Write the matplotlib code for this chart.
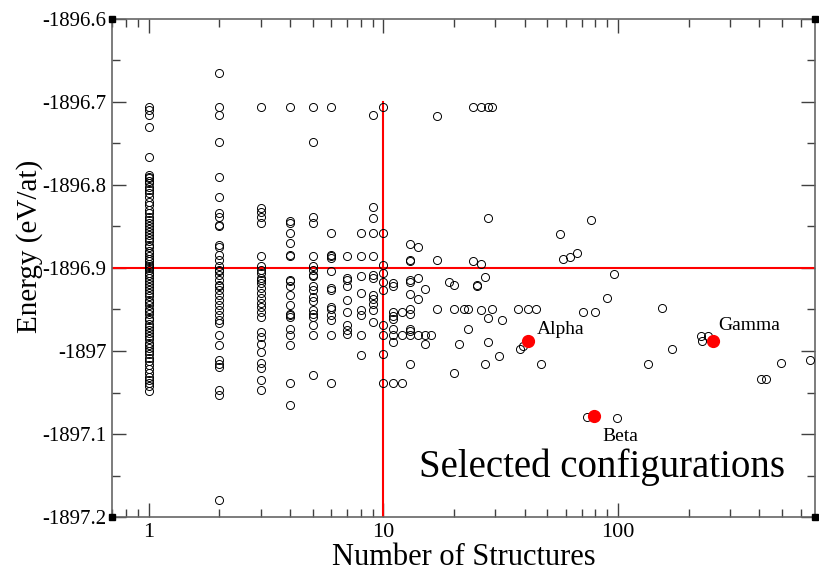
import numpy as np
import matplotlib
matplotlib.use('Agg')
import matplotlib.pyplot as plt
from matplotlib.ticker import FixedLocator, FuncFormatter, LogLocator, NullFormatter

plt.rcParams['font.family'] = ['Liberation Serif', 'DejaVu Serif']
plt.rcParams['axes.unicode_minus'] = False

# Energies of the structures, grouped by number of structures
energies_n1 = [-1896.706, -1896.710, -1896.716, -1896.730, -1896.766, -1896.788, -1896.790,
               -1896.792, -1896.795, -1896.798, -1896.802, -1896.806, -1896.810, -1896.815,
               -1896.820, -1896.824, -1896.830, -1896.834, -1896.838, -1896.842, -1896.846,
               -1896.850, -1896.853, -1896.857, -1896.860, -1896.864, -1896.868, -1896.872,
               -1896.875, -1896.879, -1896.882, -1896.886, -1896.889, -1896.892, -1896.895,
               -1896.898, -1896.900, -1896.903, -1896.906, -1896.909, -1896.912, -1896.916,
               -1896.919, -1896.923, -1896.927, -1896.930, -1896.934, -1896.938, -1896.941,
               -1896.945, -1896.949, -1896.952, -1896.956, -1896.960, -1896.963, -1896.967,
               -1896.971, -1896.975, -1896.978, -1896.982, -1896.986, -1896.990, -1896.993,
               -1896.996, -1897.000, -1897.004, -1897.008, -1897.012, -1897.017, -1897.022,
               -1897.026, -1897.031, -1897.035, -1897.038, -1897.042, -1897.048]
energies_n2 = [-1896.665, -1896.706, -1896.716, -1896.748, -1896.791, -1896.814, -1896.834,
               -1896.838, -1896.848, -1896.850, -1896.872, -1896.875, -1896.884, -1896.890,
               -1896.898, -1896.902, -1896.904, -1896.908, -1896.914, -1896.920, -1896.922,
               -1896.926, -1896.933, -1896.939, -1896.945, -1896.951, -1896.957, -1896.963,
               -1896.966, -1896.981, -1896.993, -1897.011, -1897.016, -1897.019, -1897.047,
               -1897.053, -1897.180]
energies_n3 = [-1896.706, -1896.828, -1896.832, -1896.838, -1896.846, -1896.886, -1896.898,
               -1896.902, -1896.906, -1896.912, -1896.914, -1896.918, -1896.924, -1896.930,
               -1896.936, -1896.942, -1896.947, -1896.953, -1896.959, -1896.977, -1896.983,
               -1896.991, -1897.001, -1897.014, -1897.021, -1897.035, -1897.047]
energies_n4 = [-1896.706, -1896.844, -1896.846, -1896.858, -1896.870, -1896.884, -1896.886,
               -1896.914, -1896.916, -1896.922, -1896.933, -1896.945, -1896.955, -1896.957,
               -1896.959, -1896.973, -1896.981, -1896.993, -1897.039, -1897.065]
energies_n5 = [-1896.706, -1896.748, -1896.838, -1896.846, -1896.886, -1896.898, -1896.902,
               -1896.908, -1896.910, -1896.922, -1896.926, -1896.935, -1896.940, -1896.951,
               -1896.955, -1896.959, -1896.969, -1896.981, -1897.029]
energies_n6 = [-1896.706, -1896.858, -1896.884, -1896.886, -1896.888, -1896.904, -1896.924,
               -1896.926, -1896.947, -1896.950, -1896.957, -1896.963, -1896.981, -1897.039]
energies_n7 = [-1896.886, -1896.912, -1896.914, -1896.922, -1896.939, -1896.953, -1896.969,
               -1896.975, -1896.979]
energies_n8 = [-1896.858, -1896.886, -1896.910, -1896.930, -1896.951, -1896.957, -1896.981,
               -1897.005]
energies_n9 = [-1896.716, -1896.826, -1896.840, -1896.858, -1896.886, -1896.908, -1896.912,
               -1896.933, -1896.937, -1896.943, -1896.951, -1896.965]
energies_n10 = [-1896.706, -1896.858, -1896.896, -1896.906, -1896.917, -1896.926, -1896.969,
                -1896.981, -1897.003, -1897.039]

# remaining scattered structures
other_n = [11, 11, 11, 11, 11, 11, 11, 11, 11,
           12, 12, 12,
           13, 13, 13, 13, 13, 13, 13, 13, 13, 13, 13, 13,
           14, 14, 14, 14,
           15, 15, 15,
           16,
           17, 17, 17,
           19,
           20, 20, 20,
           21, 22, 23, 23,
           24, 24, 25, 25, 26, 26, 26, 27, 27,
           28, 28, 28, 28, 29, 29, 31, 32,
           37.6, 38.3, 39.2, 41.5, 44.6, 46.9, 56.5, 58.3, 62.3, 67.1, 71, 74, 77,
           79.6, 89.5, 96.2, 98.7, 134.2, 154.4, 169.2, 224.9, 228.5, 242.3,
           404.8, 425.2, 494, 660.7]
other_e = [-1896.918, -1896.922, -1896.953, -1896.958, -1896.962, -1896.973, -1896.981, -1896.989, -1897.039,
           -1896.953, -1896.981, -1897.039,
           -1896.871, -1896.890, -1896.892, -1896.914, -1896.917, -1896.931, -1896.950, -1896.955,
           -1896.973, -1896.976, -1896.981, -1897.016,
           -1896.875, -1896.912, -1896.937, -1896.981,
           -1896.925, -1896.981, -1896.991,
           -1896.981,
           -1896.717, -1896.890, -1896.950,
           -1896.917,
           -1896.920, -1896.949, -1897.026,
           -1896.992, -1896.949, -1896.949, -1896.974,
           -1896.706, -1896.891, -1896.920, -1896.922, -1896.706, -1896.895, -1896.951, -1896.911, -1897.016,
           -1896.706, -1896.840, -1896.960, -1896.989, -1896.706, -1896.949, -1897.006, -1896.963,
           -1896.949, -1896.997, -1896.994, -1896.949, -1896.949, -1897.016, -1896.859, -1896.889,
           -1896.887, -1896.882, -1896.953, -1897.080, -1896.842,
           -1896.953, -1896.936, -1896.907, -1897.081, -1897.016, -1896.948, -1896.997, -1896.982,
           -1896.988, -1896.982,
           -1897.034, -1897.034, -1897.015, -1897.011]

# selected configurations
sel_names = ['Alpha', 'Beta', 'Gamma']
sel_n = [41.4, 79, 253.7]
sel_e = [-1896.988, -1897.078, -1896.988]
sel_offsets = [(6, 2), (6, -21), (4, 5)]

# reference lines
e_ref = -1896.9
n_ref = 10
n_ref_top = -1896.7

columns = [energies_n1, energies_n2, energies_n3, energies_n4, energies_n5,
           energies_n6, energies_n7, energies_n8, energies_n9, energies_n10]
all_n = []
all_e = []
for i, col in enumerate(columns):
    all_n += [i + 1] * len(col)
    all_e += col
all_n += other_n
all_e += other_e

fig = plt.figure(figsize=(8.19, 5.72), dpi=100)
ax = fig.add_axes([0.137, 0.096, 0.858, 0.871])

ax.plot(all_n, all_e, 'o', mfc='none', mec='black', ms=5.8, mew=0.7, zorder=3)
ax.axhline(e_ref, color='red', lw=1.5, zorder=2)
ax.plot([n_ref, n_ref], [-1897.2, n_ref_top], color='red', lw=1.5, zorder=2)
ax.plot(sel_n, sel_e, 'o', color='red', ms=8.5, zorder=4)
for name, x, y, off in zip(sel_names, sel_n, sel_e, sel_offsets):
    ax.annotate(name, (x, y), xytext=off, textcoords='offset points',
                fontsize=14, ha='left', va='bottom')

ax.text(0.437, 0.1, 'Selected configurations', transform=ax.transAxes,
        fontsize=28, va='center', ha='left')

ax.set_xscale('log')
ax.set_xlim(0.7, 690)
ax.set_ylim(-1897.2, -1896.6)
ax.xaxis.set_major_locator(FixedLocator([1, 10, 100]))
ax.xaxis.set_minor_locator(LogLocator(base=10, subs=np.arange(2, 10)))
ax.xaxis.set_major_formatter(FuncFormatter(lambda v, p: '%g' % v))
ax.xaxis.set_minor_formatter(NullFormatter())
ax.yaxis.set_major_locator(FixedLocator(np.arange(-1897.2, -1896.55, 0.1)))
ax.yaxis.set_minor_locator(FixedLocator(np.arange(-1897.15, -1896.6, 0.1)))
ax.yaxis.set_major_formatter(FuncFormatter(lambda v, p: '%g' % round(v, 1)))

ax.tick_params(which='both', direction='in', top=True, right=True, color='0.25')
ax.tick_params(which='major', length=10, width=1, labelsize=15, pad=4)
ax.tick_params(axis='x', which='major', labelsize=16)
ax.tick_params(which='minor', length=5.5, width=1)
for s in ax.spines.values():
    s.set_color('0.4')
    s.set_linewidth(1.2)

# corner squares like the original grace frame
for cx, cy in [(0, 0), (0, 1), (1, 0), (1, 1)]:
    ax.plot(cx, cy, 's', color='black', ms=5, transform=ax.transAxes, clip_on=False, zorder=5)

ax.set_xlabel('Number of Structures', fontsize=22, labelpad=1)
ax.set_ylabel('Energy (eV/at)', fontsize=21)
ax.yaxis.set_label_coords(-0.099, 0.544)

fig.savefig('out.png', dpi=100)
